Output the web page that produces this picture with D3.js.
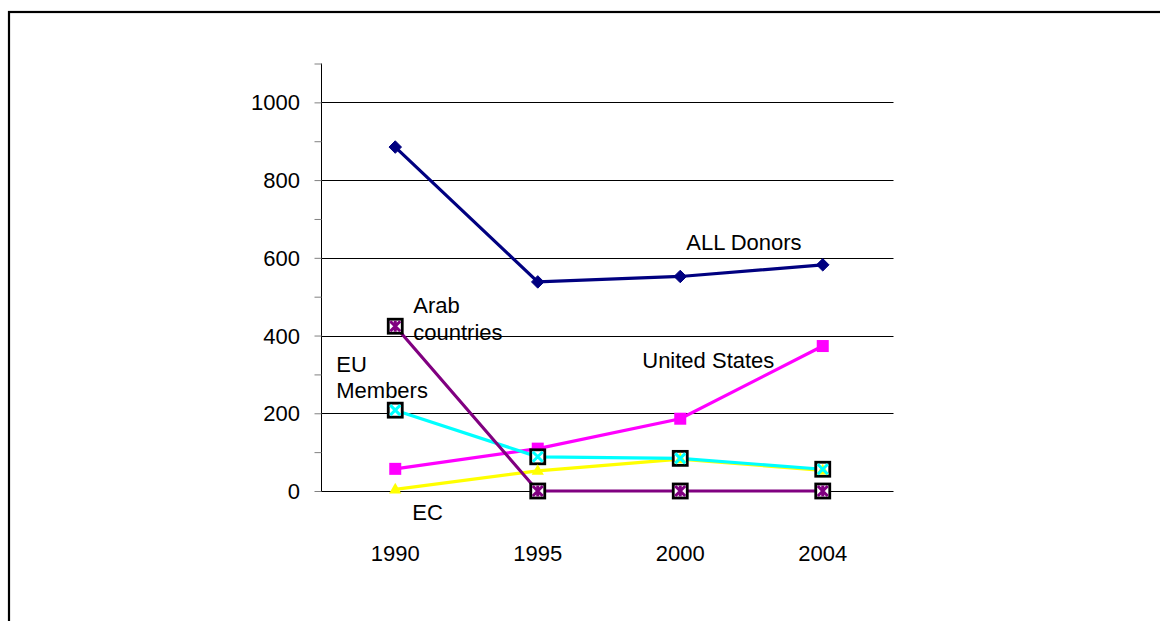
<!DOCTYPE html>
<html>
<head>
<meta charset="utf-8">
<script src="https://cdn.jsdelivr.net/npm/d3@7"></script>
<style>
  html, body { margin: 0; padding: 0; background: #fff; }
  svg { display: block; }
  text { font-family: "Liberation Sans", Arial, sans-serif; font-size: 22px; fill: #000; }
</style>
</head>
<body>
<svg id="chart" width="1160" height="621"></svg>
<script>
// ---- data ----
const years = ["1990", "1995", "2000", "2004"];
const allDonors = [885, 538, 552, 582];
const unitedStates = [57, 109, 186, 373];
const ec = [4, 52, 82, 53];
const euMembers = [208, 88, 84, 56];
const arabCountries = [424, 0, 0, 0];
const yTickValues = [0, 200, 400, 600, 800, 1000];
const yMinorTicks = [0, 100, 200, 300, 400, 500, 600, 700, 800, 900, 1000, 1100];

const svg = d3.select("#chart");

// frame
svg.append("rect").attr("x", 9).attr("y", 12).attr("width", 1300).attr("height", 800)
  .attr("fill", "none").attr("stroke", "#000").attr("stroke-width", 2.2);

const plotLeft = 321, plotRight = 893.5;
const x = d3.scalePoint().domain(years).range([324, 894]).padding(0.5);
const y = d3.scaleLinear().domain([0, 1100]).range([491, 63.5]);

// gridlines
svg.append("g").selectAll("line").data(yTickValues).join("line")
  .attr("x1", plotLeft).attr("x2", plotRight)
  .attr("y1", d => Math.round(y(d)) + 0.5).attr("y2", d => Math.round(y(d)) + 0.5)
  .attr("stroke", "#000").attr("stroke-width", 1);

// y axis with minor ticks
const yAxis = d3.axisLeft(y).tickValues(yMinorTicks).tickSize(7).tickFormat("");
const ya = svg.append("g").attr("transform", `translate(${plotLeft + 0.5},0)`).call(yAxis);
ya.select(".domain").attr("stroke", "#000").attr("d", `M0,${y(1100)}V${y(0)}`);
ya.selectAll(".tick line").attr("stroke", "#808080");

// y labels
svg.append("g").selectAll("text").data(yTickValues).join("text")
  .attr("x", 300).attr("y", d => y(d) + 8)
  .attr("text-anchor", "end").text(d => d);

// x labels
svg.append("g").selectAll("text").data(years).join("text")
  .attr("x", d => x(d)).attr("y", y(0) + 70)
  .attr("text-anchor", "middle").text(d => d);

const line = d3.line().x((d, i) => x(years[i])).y(d => y(d));
const series = [
  { vals: allDonors, color: "#000080" },
  { vals: unitedStates, color: "#FF00FF" },
  { vals: ec, color: "#FFFF00" },
  { vals: euMembers, color: "#00FFFF" },
  { vals: arabCountries, color: "#800080" }
];
svg.append("g").selectAll("path").data(series).join("path")
  .attr("d", d => line(d.vals)).attr("fill", "none")
  .attr("stroke", d => d.color).attr("stroke-width", 3.2);

const m = svg.append("g");
// ALL Donors diamonds
m.selectAll(".dia").data(allDonors).join("path").attr("class", "dia")
  .attr("d", d3.symbol(d3.symbolDiamond2, 100)())
  .attr("transform", (d, i) => `translate(${x(years[i])},${y(d)})`)
  .attr("fill", "#000080").attr("stroke", "#000080").attr("stroke-width", 1);
// US squares
m.selectAll(".sq").data(unitedStates).join("rect").attr("class", "sq")
  .attr("x", (d, i) => x(years[i]) - 6).attr("y", d => y(d) - 6)
  .attr("width", 12).attr("height", 12).attr("fill", "#FF00FF");
// EU boxes
m.selectAll(".eubox").data(euMembers).join("rect").attr("class", "eubox")
  .attr("x", (d, i) => x(years[i]) - 7).attr("y", d => y(d) - 7)
  .attr("width", 14).attr("height", 14).attr("fill", "#fff")
  .attr("stroke", "#000").attr("stroke-width", 2.8);
// EC triangles
m.selectAll(".tri").data(ec).join("path").attr("class", "tri")
  .attr("d", d3.symbol(d3.symbolTriangle, 65)())
  .attr("transform", (d, i) => `translate(${x(years[i])},${y(d) + 0.5})`)
  .attr("fill", "#FFFF00");
// EU X glyphs
m.selectAll(".eux").data(euMembers).join("path").attr("class", "eux")
  .attr("d", (d, i) => {
    const cx = x(years[i]), cy = y(d), r = 5;
    return `M${cx - r},${cy - r}L${cx + r},${cy + r}M${cx - r},${cy + r}L${cx + r},${cy - r}`;
  })
  .attr("stroke", "#00FFFF").attr("stroke-width", 3).attr("fill", "none");
// Arab boxes + asterisks
m.selectAll(".arbox").data(arabCountries).join("rect").attr("class", "arbox")
  .attr("x", (d, i) => x(years[i]) - 7).attr("y", d => y(d) - 7)
  .attr("width", 14).attr("height", 14).attr("fill", "#fff")
  .attr("stroke", "#000").attr("stroke-width", 2.8);
m.selectAll(".ast").data(arabCountries).join("path").attr("class", "ast")
  .attr("d", (d, i) => {
    const cx = x(years[i]), cy = y(d), r = 5;
    return `M${cx - r},${cy - r}L${cx + r},${cy + r}M${cx - r},${cy + r}L${cx + r},${cy - r}M${cx},${cy - r - 0.5}V${cy + r + 0.5}`;
  })
  .attr("stroke", "#800080").attr("stroke-width", 3).attr("fill", "none");

// series labels
const lab = svg.append("g");
lab.append("text").attr("x", x("2000") + 6).attr("y", y(600) - 8).text("ALL Donors");
lab.append("text").attr("x", x("2000") - 38).attr("y", y(400) + 32.5).text("United States");
lab.append("text").attr("x", x("1990") + 18).attr("y", y(400) - 22.5).text("Arab");
lab.append("text").attr("x", x("1990") + 18).attr("y", y(400) + 4.5).text("countries");
lab.append("text").attr("x", x("1990") - 59).attr("y", y(200) - 41).text("EU");
lab.append("text").attr("x", x("1990") - 59).attr("y", y(200) - 15).text("Members");
lab.append("text").attr("x", x("1990") + 17).attr("y", y(0) + 29).text("EC");
</script>
</body>
</html>
